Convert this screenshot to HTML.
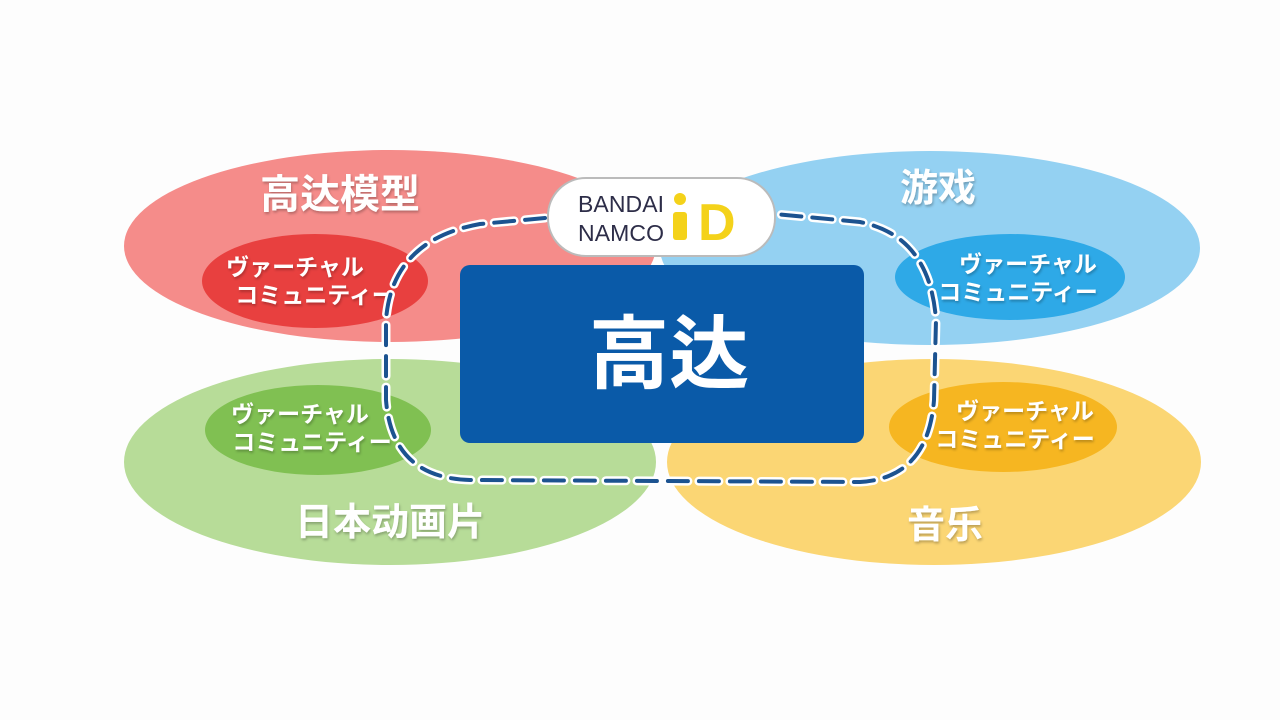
<!DOCTYPE html>
<html><head><meta charset="utf-8"><style>
html,body{margin:0;padding:0;background:#fdfdfd;}
svg{display:block}
text{font-family:"Liberation Sans","Noto Sans CJK JP",sans-serif;font-weight:bold;}
</style></head><body>
<svg width="1280" height="720" viewBox="0 0 1280 720">
<defs>
<filter id="sh" x="-10%" y="-10%" width="120%" height="130%"><feDropShadow dx="1" dy="2" stdDeviation="1.2" flood-color="#000" flood-opacity="0.25"/></filter>
</defs>
<rect width="1280" height="720" fill="#fdfdfd"/>
<ellipse cx="390" cy="246" rx="266" ry="96" fill="#f58c8a"/>
<ellipse cx="930" cy="248" rx="270" ry="97" fill="#94d1f2"/>
<ellipse cx="390" cy="462" rx="266" ry="103" fill="#b7dc98"/>
<ellipse cx="934" cy="462" rx="267" ry="103" fill="#fbd674"/>
<ellipse cx="315" cy="281" rx="113" ry="47" fill="#e8403f"/>
<ellipse cx="1010" cy="277" rx="115" ry="43" fill="#2ea9e7"/>
<ellipse cx="318" cy="430" rx="113" ry="45" fill="#80c052"/>
<ellipse cx="1003" cy="427" rx="114" ry="45" fill="#f6b621"/>
<g fill="#fff" filter="url(#sh)">
<text x="340" y="208" font-size="40" text-anchor="middle">高达模型</text>
<text x="938" y="201" font-size="38" text-anchor="middle">游戏</text>
<text x="390" y="535" font-size="38" text-anchor="middle">日本动画片</text>
<text x="945" y="538" font-size="38" text-anchor="middle">音乐</text>
<g font-size="23" text-anchor="middle">
<text x="295" y="275">ヴァーチャル</text><text x="315" y="303">コミュニティー</text>
<text x="1028" y="272">ヴァーチャル</text><text x="1018" y="300">コミュニティー</text>
<text x="300" y="422">ヴァーチャル</text><text x="312" y="450">コミュニティー</text>
<text x="1025" y="419">ヴァーチャル</text><text x="1015" y="447">コミュニティー</text>
</g></g>
<path id="loop" d="M545 218 L480 224 Q392 240 386 320 L386 400 Q392 478 470 480 L860 482 Q928 478 934 400 L936 320 Q930 236 860 222 L775 214" fill="none"/>
<use href="#loop" stroke="#fff" stroke-width="9" stroke-dasharray="20 11" stroke-linecap="round"/>
<use href="#loop" stroke="#1c5390" stroke-width="4" stroke-dasharray="20 11" stroke-linecap="round"/>
<rect x="460" y="265" width="404" height="178" rx="10" fill="#0a5aa8"/>
<text x="669" y="382" font-size="80" fill="#fff" text-anchor="middle">高达</text>
<rect x="548" y="178" width="227" height="78" rx="38" fill="#fff" stroke="#bbb" stroke-width="2"/>
<text x="578" y="212" font-size="23" fill="#2d2d48" style="font-weight:normal" textLength="86">BANDAI</text>
<text x="578" y="241" font-size="23" fill="#2d2d48" style="font-weight:normal" textLength="86">NAMCO</text>
<circle cx="680" cy="199" r="6" fill="#f4d21a"/>
<rect x="673" y="212" width="14" height="28" rx="3" fill="#f4d21a"/>
<text x="698" y="240" font-size="52" fill="#f4d21a">D</text>
</svg>
</body></html>
